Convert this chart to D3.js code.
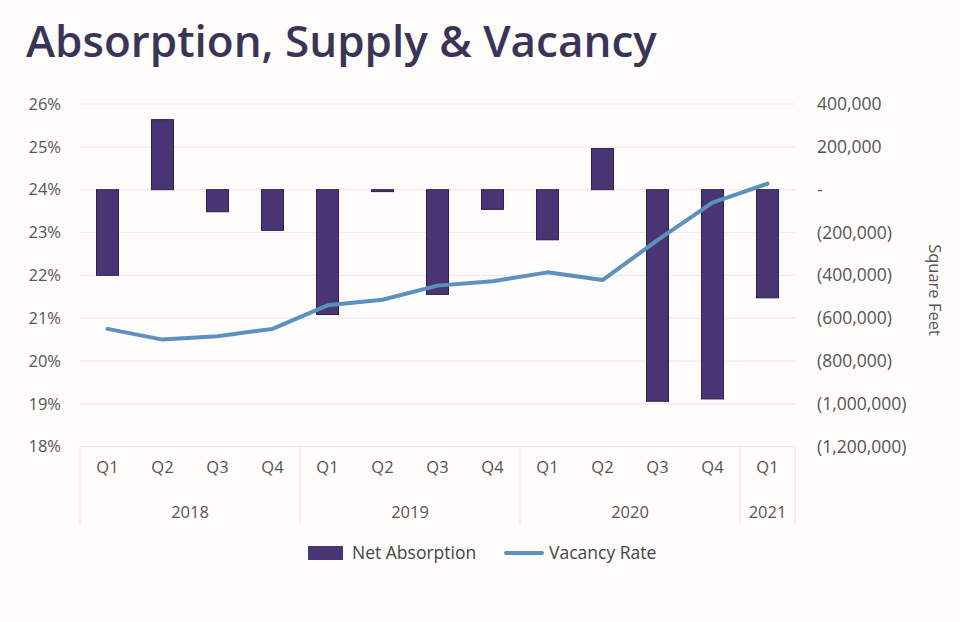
<!DOCTYPE html>
<html><head><meta charset="utf-8">
<script src="https://cdn.jsdelivr.net/npm/d3@7"></script>
<style>
body{margin:0;background:#fdfcfb;}
svg{display:block;font-family:"Open Sans",sans-serif;}
</style></head>
<body><svg id="c" width="960" height="622"></svg>
<script>
const quarters = ["Q1","Q2","Q3","Q4","Q1","Q2","Q3","Q4","Q1","Q2","Q3","Q4","Q1"];
const years = ["2018","2018","2018","2018","2019","2019","2019","2019","2020","2020","2020","2020","2021"];
const netAbsorption = [-400000, 327000, -103000, -190000, -583000, -9000, -489000, -92000, -234000, 192000, -988000, -977000, -505000];
const vacancyRate = [20.75, 20.50, 20.58, 20.75, 21.30, 21.43, 21.76, 21.86, 22.07, 21.89, 22.82, 23.70, 24.14];
const leftTicks = [18,19,20,21,22,23,24,25,26];
const rightTicks = [-1200000,-1000000,-800000,-600000,-400000,-200000,0,200000,400000];

const svg = d3.select("#c");
const X0 = 80, X1 = 795, Y0 = 104, Y1 = 446.7;
const FS = 16.5;
const idx = d3.range(quarters.length);
const x = d3.scaleBand().domain(idx).range([X0, X1]).paddingInner(0).paddingOuter(0);
const yL = d3.scaleLinear().domain([18, 26]).range([Y1, Y0]);
const yR = d3.scaleLinear().domain([-1200000, 400000]).range([Y1, Y0]);

svg.append("rect").attr("width",960).attr("height",622).attr("fill","#fdfcfb");

svg.append("text").attr("x",26).attr("y",57).attr("fill","#3a3456")
  .attr("font-size",44).attr("font-weight",600).text("Absorption, Supply & Vacancy");

// gridlines
svg.append("g").selectAll("line").data(leftTicks).join("line")
  .attr("x1",X0).attr("x2",X1).attr("y1",d=>yL(d)).attr("y2",d=>yL(d))
  .attr("stroke","#ececec").attr("stroke-width",1.2);

// left axis
const gl = svg.append("g").attr("transform",`translate(${X0},0)`)
  .call(d3.axisLeft(yL).tickValues(leftTicks).tickSize(0).tickPadding(19).tickFormat(d=>d+"%"));
gl.select(".domain").remove();
gl.selectAll("text").attr("font-size",FS).attr("fill","#555").attr("font-family","Open Sans");

// right axis
const fmt = d3.format(",");
const gr = svg.append("g").attr("transform",`translate(${X1},0)`)
  .call(d3.axisRight(yR).tickValues(rightTicks).tickSize(0).tickPadding(22)
    .tickFormat(d=> d===0 ? "-" : d<0 ? "("+fmt(-d)+")" : fmt(d)));
gr.select(".domain").remove();
gr.selectAll("text").attr("font-size",17.5).attr("fill","#555").attr("font-family","Open Sans");

svg.append("text").attr("transform","translate(929,290) rotate(90)")
  .attr("text-anchor","middle").attr("font-size",FS).attr("fill","#555").text("Square Feet");

// category axis
const sepIdx = [0,4,8,12,13];
svg.append("g").selectAll("line").data(sepIdx).join("line")
  .attr("x1",d=> d<13 ? x(d) : X1).attr("x2",d=> d<13 ? x(d) : X1)
  .attr("y1",Y1).attr("y2",524).attr("stroke","#e6e6e6").attr("stroke-width",1.2);
const gx = svg.append("g").attr("transform",`translate(0,${Y1})`)
  .call(d3.axisBottom(x).tickSize(0).tickPadding(15).tickFormat(i=>quarters[i]));
gx.select(".domain").remove();
gx.selectAll("text").attr("font-size",FS).attr("fill","#555").attr("font-family","Open Sans");

const yearGroups = d3.groups(idx, i=>years[i]);
svg.append("g").selectAll("text").data(yearGroups).join("text")
  .attr("x",d=> (x(d[1][0]) + x(d[1][d[1].length-1]) + x.bandwidth())/2)
  .attr("y",518).attr("text-anchor","middle").attr("font-size",FS).attr("fill","#555")
  .text(d=>d[0]);

// bars
const bw = 22;
svg.append("g").selectAll("rect").data(idx).join("rect")
  .attr("x",i=>x(i)+x.bandwidth()/2-bw/2).attr("width",bw)
  .attr("y",i=>Math.min(yR(netAbsorption[i]), yR(0)))
  .attr("height",i=>Math.max(1, Math.abs(yR(netAbsorption[i])-yR(0))))
  .attr("fill","#4a3574").attr("stroke","#2e2148").attr("stroke-width",1);

// line
const line = d3.line().x(i=>x(i)+x.bandwidth()/2).y(i=>yL(vacancyRate[i]));
svg.append("path").datum(idx).attr("d",line).attr("fill","none")
  .attr("stroke","#5b90bf").attr("stroke-width",4).attr("stroke-linejoin","round").attr("stroke-linecap","round");

// legend
const lg = svg.append("g");
lg.append("rect").attr("x",308).attr("y",546).attr("width",35).attr("height",14).attr("fill","#4a3574");
lg.append("text").attr("x",352).attr("y",559).attr("font-size",17.5).attr("fill","#444").text("Net Absorption");
lg.append("line").attr("x1",506).attr("x2",542).attr("y1",553).attr("y2",553).attr("stroke","#5b90bf").attr("stroke-width",4).attr("stroke-linecap","round");
lg.append("text").attr("x",549).attr("y",559).attr("font-size",17.5).attr("fill","#444").text("Vacancy Rate");
</script></body></html>
